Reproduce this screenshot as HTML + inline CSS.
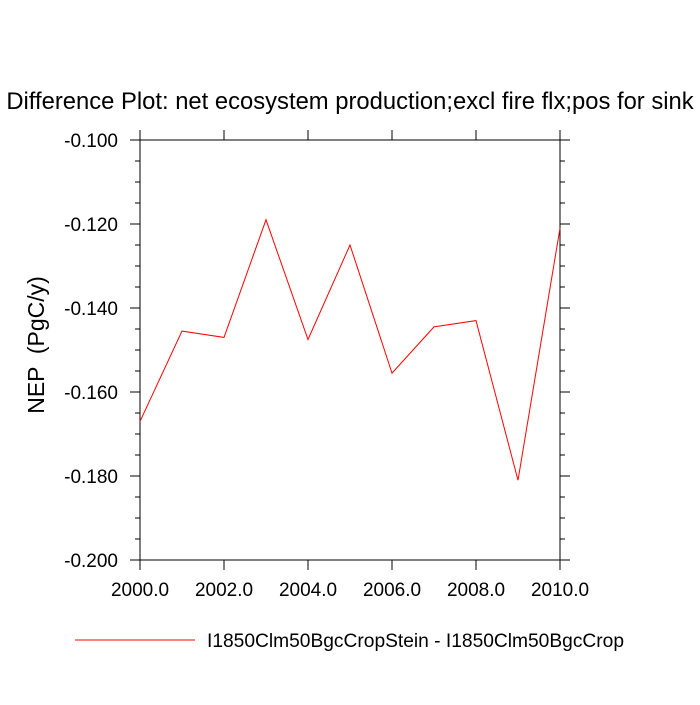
<!DOCTYPE html>
<html><head><meta charset="utf-8"><style>body{margin:0;background:#fff}svg text{font-family:"Liberation Sans",sans-serif}</style></head>
<body>
<svg id="c" width="700" height="700" xmlns="http://www.w3.org/2000/svg">
<text x="350" y="109" font-size="23.8" text-anchor="middle">Difference Plot: net ecosystem production;excl fire flx;pos for sink</text>
<text transform="translate(44,345) rotate(-90)" font-size="23" text-anchor="middle" xml:space="preserve" style="white-space:pre">NEP  (PgC/y)</text>
<g id="axes"></g>
<rect x="140" y="140" width="420" height="420" fill="none" stroke="#000" stroke-width="1"/>
<line x1="75" y1="640" x2="195" y2="640" stroke="red" stroke-width="1"/>
<text x="207" y="647" font-size="19.2">I1850Clm50BgcCropStein - I1850Clm50BgcCrop</text>
</svg>
<script>
const years=[2000,2001,2002,2003,2004,2005,2006,2007,2008,2009,2010];
const nep=[-0.167,-0.1455,-0.147,-0.119,-0.1475,-0.125,-0.1555,-0.1445,-0.143,-0.181,-0.121];
const xTicks=["2000.0","2002.0","2004.0","2006.0","2008.0","2010.0"];
const yTicks=["-0.100","-0.120","-0.140","-0.160","-0.180","-0.200"];
const NS="http://www.w3.org/2000/svg";
const X=v=>140+(v-2000)/10*420, Y=v=>140+(-0.100-v)/0.1*420;
const svg=document.getElementById('c'), g=document.getElementById('axes');
function ln(x1,y1,x2,y2,n){const l=document.createElementNS(NS,'line');l.setAttribute('x1',x1);l.setAttribute('y1',y1);l.setAttribute('x2',x2);l.setAttribute('y2',y2);l.setAttribute('stroke','#000');


g.appendChild(l);}
function tx(x,y,s,a,n){const t=document.createElementNS(NS,'text');t.setAttribute('x',x);t.setAttribute('y',y);t.setAttribute('font-size','19');t.setAttribute('text-anchor',a);t.textContent=s;


g.appendChild(t);}
for(let i=0;i<=5;i++){const x=X(2000+i*2);ln(x,560,x,570,'x-tick');ln(x,140,x,130,'x-tick-top');}
for(let i=0;i<=20;i++){const v=-0.1-i*0.005,y=Y(v),L=i%4==0?10:5;ln(140,y,140-L,y,'y-tick');ln(560,y,560+L,y,'y-tick-right');}
xTicks.forEach((s,i)=>tx(X(2000+i*2),596,s,'middle','x-tick-label'));
yTicks.forEach((s,i)=>tx(118,Y(-0.1-i*0.02)+7,s,'end','y-tick-label'));
const p=document.createElementNS(NS,'polyline');
p.setAttribute('points',years.map((y,i)=>X(y)+','+Y(nep[i])).join(' '));
p.setAttribute('fill','none');p.setAttribute('stroke','red');


svg.appendChild(p);
</script>
</body></html>
